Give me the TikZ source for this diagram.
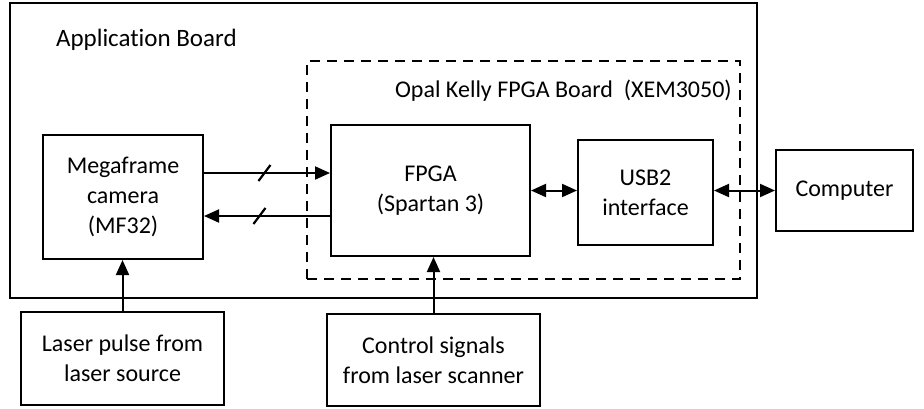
\documentclass[tikz,border=0pt]{standalone}
\usepackage{fontspec}
\setmainfont{Carlito}[RawFeature={-liga}]
\usetikzlibrary{arrows.meta}
\usetikzlibrary{shapes}

\begin{document}
\begin{tikzpicture}[x = 0.5pt, y = -0.5pt, font=\fontsize{12}{14.8}\selectfont]
	\tikzstyle{boxStyle} = [shape = rectangle, draw, line width = 1pt, inner sep = 0pt, align = center]
	\tikzstyle{boardStyle} = [shape = rectangle, draw, line width = 1.2pt, inner sep = 0pt]
	\tikzstyle{dashStyle} = [shape = rectangle, draw, line width = 1pt, inner sep = 0pt, dash pattern = on 5pt off 3.5pt]
	\tikzstyle{arrStyle} = [line width = 1pt, -{Triangle[length = 7.5pt, width = 6.5pt]}]
	\tikzstyle{dblStyle} = [line width = 1pt, {Triangle[length = 7.5pt, width = 6.5pt]}-{Triangle[length = 7.5pt, width = 6.5pt]}]
	\tikzstyle{slashStyle} = [line width = 1.1pt]
	\useasboundingbox (0,0) rectangle (924,408);
	% boards
	\node[boardStyle, minimum width = 373.5pt, minimum height = 147.5pt] (app) at (383.5,150.5) {};
	\node[anchor = west, font = \fontsize{12.5}{15}\selectfont] (applbl) at (49,40) {Application Board};
	\node[dashStyle, minimum width = 216.5pt, minimum height = 109pt] (opal) at (523.5,170) {};
	\node[anchor = west] (opallbl) at (388,91) {Opal Kelly FPGA Board\ \ (XEM3050)};
	% blocks
	\node[boxStyle, minimum width = 80pt, minimum height = 62pt] (mf) at (123,197) {Megaframe\\camera\\(MF32)};
	\node[boxStyle, minimum width = 99.5pt, minimum height = 65.5pt] (fpga) at (430.5,190.5) {FPGA\\(Spartan 3)};
	\node[boxStyle, minimum width = 67.5pt, minimum height = 52.5pt] (usb) at (645.5,192.5) {USB2\\interface};
	\node[boxStyle, minimum width = 68.5pt, minimum height = 40.5pt] (pc) at (844.5,190.5) {Computer};
	\node[boxStyle, minimum width = 101.5pt, minimum height = 46.5pt] (laser) at (122.5,358.5) {Laser pulse from\\laser source};
	\node[boxStyle, minimum width = 106.5pt, minimum height = 46pt] (ctrl) at (433.5,360) {Control signals\\from laser scanner};
	% links
	\draw[arrStyle] ([yshift = 12pt]mf.east) -- ([yshift = 12pt]mf.east -| fpga.west) coordinate[pos = 0.48] (s1);
	\draw[arrStyle] ([yshift = -9.5pt]mf.east -| fpga.west) -- ([yshift = -9.5pt]mf.east) coordinate[pos = 0.56] (s2);
	\draw[slashStyle] ([shift = {(-3pt,-4pt)}]s1) -- ([shift = {(3pt,4pt)}]s1);
	\draw[slashStyle] ([shift = {(-3pt,-4pt)}]s2) -- ([shift = {(3pt,4pt)}]s2);
	\draw[dblStyle] (fpga.east) -- (fpga.east -| usb.west);
	\draw[dblStyle] (pc.west -| usb.east) -- (pc.west);
	\draw[arrStyle] (ctrl.north) -- (ctrl.north |- fpga.south);
	\draw[arrStyle] (laser.north) -- (laser.north |- mf.south);
\end{tikzpicture}
\end{document}
